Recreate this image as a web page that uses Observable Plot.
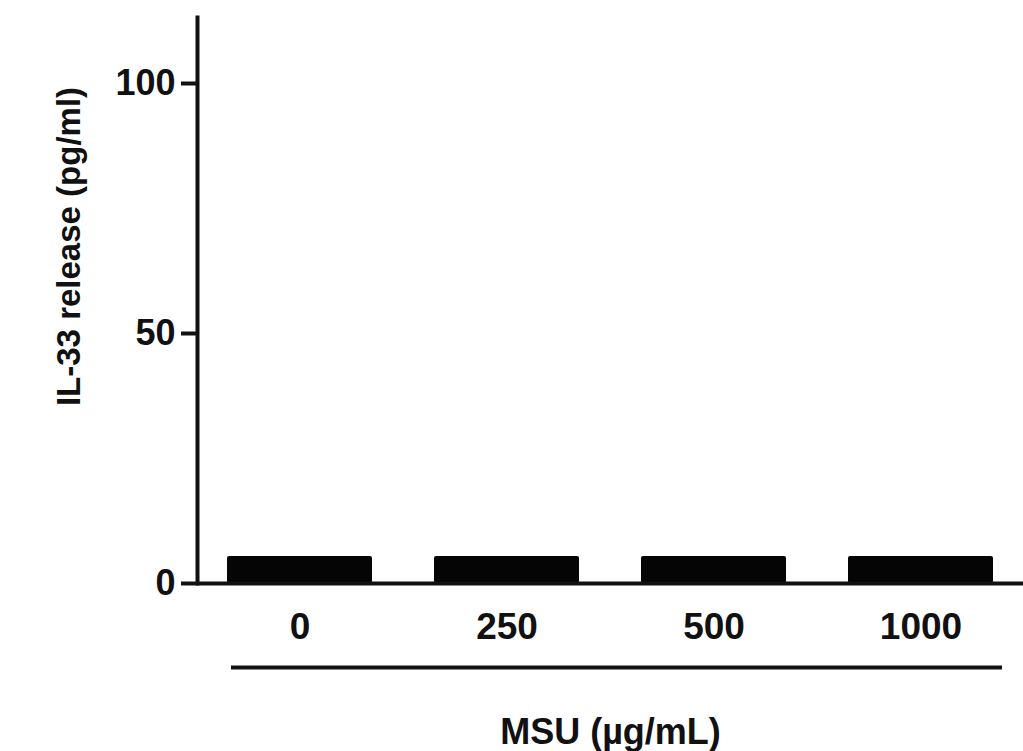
<!DOCTYPE html>
<html>
<head>
<meta charset="utf-8">
<script src="https://cdn.jsdelivr.net/npm/d3@7"></script>
<script src="https://cdn.jsdelivr.net/npm/@observablehq/plot@0.6"></script>
<style>
  html, body { margin: 0; padding: 0; background: #fff; }
  svg { display: block; }
</style>
</head>
<body>
<div id="chart"></div>
<script>
// Data
const categories = ["0", "250", "500", "1000"];
const values = [5.4, 5.4, 5.4, 5.4];
const yTicks = [0, 50, 100];
const yLabel = "IL-33 release (pg/ml)";
const xLabel = "MSU (µg/mL)";

const data = categories.map((c, i) => ({dose: c, value: values[i]}));
const font = "'Liberation Sans', Arial, Helvetica, sans-serif";
const ink = "#111";

const chart = Plot.plot({
  width: 1023,
  height: 751,
  marginLeft: 197,
  marginRight: 0,
  marginTop: 17,
  marginBottom: 168,
  style: {fontFamily: font, fontWeight: "bold", color: ink, background: "#fff"},
  x: {domain: categories, paddingInner: 0.3, paddingOuter: 0.14, axis: null},
  y: {domain: [0, 113.2], axis: null},
  marks: [
    Plot.barY(data, {x: "dose", y: "value", fill: "#050505", rx: 2}),
    Plot.frame({anchor: "left", stroke: ink, strokeWidth: 4}),
    Plot.ruleY([0], {stroke: ink, strokeWidth: 4}),
    Plot.axisY({ticks: yTicks, tickSize: 16, tickPadding: 6, strokeWidth: 4, stroke: ink,
      fontSize: 36, fontWeight: "bold", fill: ink, label: null}),
    Plot.axisX({tickSize: 0, tickPadding: 29, fontSize: 37, fontWeight: "bold", fill: ink, label: null}),
    Plot.ruleY([0], {x1: () => categories[0], x2: () => categories[categories.length - 1],
      dy: 84, insetLeft: 4, insetRight: -9, stroke: ink, strokeWidth: 4}),
    Plot.text([xLabel], {frameAnchor: "bottom", textAnchor: "middle", lineAnchor: "bottom", dy: 160,
      fontSize: 36, fontWeight: "bold", fill: ink}),
    Plot.text([yLabel], {frameAnchor: "left", textAnchor: "middle", rotate: -90, lineAnchor: "bottom",
      dx: -118, dy: -54, fontSize: 33, fontWeight: "bold", fill: ink})
  ]
});
document.getElementById("chart").append(chart);
</script>
</body>
</html>
